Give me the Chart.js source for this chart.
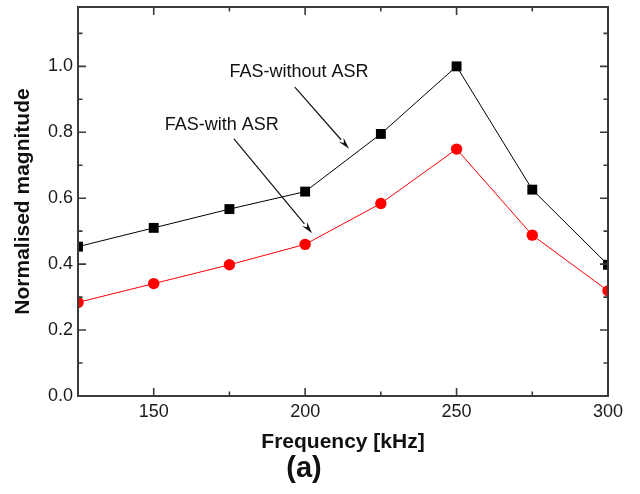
<!DOCTYPE html>
<html>
<head>
<meta charset="utf-8">
<script src="https://cdn.jsdelivr.net/npm/chart.js@4/dist/chart.umd.min.js"></script>
<style>
  html, body { margin: 0; padding: 0; background: #fff; }
  #wrap { width: 640px; height: 494px; position: relative; }
</style>
</head>
<body>
<div id="wrap"><canvas id="c"></canvas></div>
<script>
// Frequencies (kHz) and normalised magnitudes
const frequencies = [125, 150, 175, 200, 225, 250, 275, 300];
const fasWithoutASR = [0.453, 0.510, 0.567, 0.620, 0.795, 1.000, 0.626, 0.398];
const fasWithASR    = [0.284, 0.341, 0.398, 0.460, 0.584, 0.749, 0.488, 0.319];

// Axis ticks
const xMajorTicks = [150, 200, 250, 300];
const xMinorTicks = [125, 175, 225, 275];
const yMajorTicks = [0.0, 0.2, 0.4, 0.6, 0.8, 1.0];
const yMinorTicks = [0.1, 0.3, 0.5, 0.7, 0.9, 1.1];
const xRange = [125, 300];
const yRange = [0, 1.18];

// Callout labels with arrows (data coordinates)
const calloutLabels = ['FAS-without ASR', 'FAS-with ASR'];
const calloutTextAt = [[198.0, 0.982], [172.5, 0.822]];
const calloutArrowFrom = [[196.6, 0.937], [176.5, 0.780]];
const calloutArrowTo = [[214.5, 0.750], [202.3, 0.494]];

const FONT = "Arial, 'Liberation Sans', Helvetica, sans-serif";

const toPoints = (ys) => frequencies.map((f, i) => ({ x: f, y: ys[i] }));

// Box frame with inward ticks on all four sides, plus the callouts
const framePlugin = {
  id: 'frame',
  afterDatasetsDraw(chart) {
    const { ctx, chartArea: a, scales: { x, y } } = chart;
    ctx.save();
    ctx.strokeStyle = '#3a3a3a';
    ctx.lineWidth = 1.6;
    const tick = (px, len, horiz) => {
      ctx.beginPath();
      if (horiz) {
        ctx.moveTo(px, a.bottom); ctx.lineTo(px, a.bottom - len);
        ctx.moveTo(px, a.top); ctx.lineTo(px, a.top + len);
      } else {
        ctx.moveTo(a.left, px); ctx.lineTo(a.left + len, px);
        ctx.moveTo(a.right, px); ctx.lineTo(a.right - len, px);
      }
      ctx.stroke();
    };
    xMajorTicks.forEach(v => tick(x.getPixelForValue(v), 8, true));
    xMinorTicks.forEach(v => tick(x.getPixelForValue(v), 4.5, true));
    yMajorTicks.forEach(v => tick(y.getPixelForValue(v), 8, false));
    yMinorTicks.forEach(v => tick(y.getPixelForValue(v), 4.5, false));
    ctx.lineWidth = 2;
    ctx.strokeRect(a.left, a.top, a.right - a.left, a.bottom - a.top);
    ctx.restore();
  },
  afterDraw(chart) {
    const { ctx, scales: { x, y } } = chart;
    ctx.save();
    ctx.fillStyle = '#111';
    ctx.strokeStyle = '#111';
    ctx.font = "18px " + FONT;
    ctx.textAlign = 'center';
    ctx.textBaseline = 'middle';
    calloutLabels.forEach((label, i) => {
      const [tx, ty] = calloutTextAt[i];
      ctx.fillText(label, x.getPixelForValue(tx), y.getPixelForValue(ty));
      const x0 = x.getPixelForValue(calloutArrowFrom[i][0]);
      const y0 = y.getPixelForValue(calloutArrowFrom[i][1]);
      const x1 = x.getPixelForValue(calloutArrowTo[i][0]);
      const y1 = y.getPixelForValue(calloutArrowTo[i][1]);
      const ang = Math.atan2(y1 - y0, x1 - x0);
      const head = 12, half = 3.2;
      const bx = x1 - head * Math.cos(ang), by = y1 - head * Math.sin(ang);
      ctx.lineWidth = 1.2;
      ctx.beginPath();
      ctx.moveTo(x0, y0);
      ctx.lineTo(bx, by);
      ctx.stroke();
      ctx.beginPath();
      ctx.moveTo(x1, y1);
      ctx.lineTo(bx + half * Math.sin(ang), by - half * Math.cos(ang));
      ctx.lineTo(bx + 0.35 * head * Math.cos(ang), by + 0.35 * head * Math.sin(ang));
      ctx.lineTo(bx - half * Math.sin(ang), by + half * Math.cos(ang));
      ctx.closePath();
      ctx.fill();
    });
    ctx.restore();
  }
};

new Chart(document.getElementById('c'), {
  type: 'line',
  data: {
    datasets: [
      {
        label: 'FAS-without ASR',
        data: toPoints(fasWithoutASR),
        borderColor: '#000',
        backgroundColor: '#000',
        borderWidth: 1,
        pointStyle: 'rect',
        pointRadius: 7,
        pointBorderWidth: 0,
        clip: 0
      },
      {
        label: 'FAS-with ASR',
        data: toPoints(fasWithASR),
        borderColor: '#ff0000',
        backgroundColor: '#ff0000',
        borderWidth: 1,
        pointStyle: 'circle',
        pointRadius: 5.7,
        pointBorderWidth: 0,
        clip: 0
      }
    ]
  },
  options: {
    responsive: true,
    maintainAspectRatio: false,
    animation: false,
    devicePixelRatio: 1,
    layout: { padding: { left: 0, right: 32, top: 3, bottom: 11 } },
    plugins: {
      legend: { display: false },
      tooltip: { enabled: false },
      title: {
        display: true,
        position: 'bottom',
        text: '(a)',
        color: '#111',
        font: { family: FONT, size: 29, weight: 'bold', lineHeight: 1 },
        padding: { top: 1, bottom: 0 }
      }
    },
    scales: {
      x: {
        type: 'linear',
        min: xRange[0],
        max: xRange[1],
        afterBuildTicks: (s) => { s.ticks = xMajorTicks.map(v => ({ value: v })); },
        afterFit: (s) => { s.height = 57; s.paddingLeft = 0; },
        grid: { display: false, drawTicks: false },
        border: { display: false },
        ticks: {
          color: '#1a1a1a',
          padding: 5,
          maxRotation: 0,
          font: { family: FONT, size: 18 },
          callback: (v) => String(v)
        },
        title: {
          display: true,
          text: 'Frequency [kHz]',
          color: '#111',
          font: { family: FONT, size: 21, weight: 'bold', lineHeight: 1 },
          padding: { top: 0, bottom: 0 }
        }
      },
      y: {
        type: 'linear',
        min: yRange[0],
        max: yRange[1],
        afterBuildTicks: (s) => { s.ticks = yMajorTicks.map(v => ({ value: v })); },
        afterFit: (s) => { s.width = 78; s.paddingTop = 0; s.paddingBottom = 0; },
        grid: { display: false, drawTicks: false },
        border: { display: false },
        ticks: {
          color: '#1a1a1a',
          padding: 5,
          font: { family: FONT, size: 18 },
          callback: (v) => Number(v).toFixed(1)
        },
        title: {
          display: true,
          text: 'Normalised magnitude',
          color: '#111',
          font: { family: FONT, size: 21, weight: 'bold', lineHeight: 1 },
          padding: { top: 13, bottom: 0 }
        }
      }
    }
  },
  plugins: [framePlugin]
});
</script>
</body>
</html>
